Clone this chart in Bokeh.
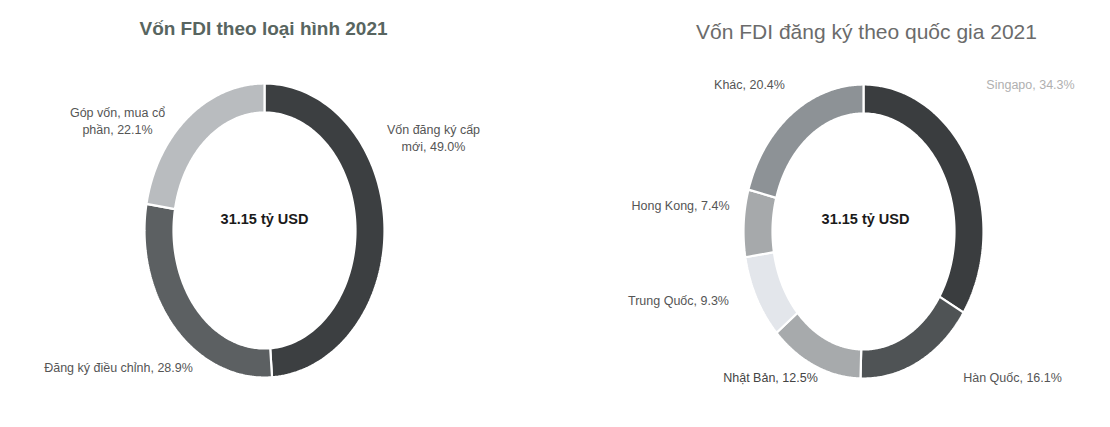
import numpy as np
from bokeh.plotting import figure
from bokeh.models import Range1d, ColumnDataSource
from bokeh.core.properties import value
from bokeh.embed import file_html
from bokeh.resources import INLINE

# ---- data ----
title_left = "Vốn FDI theo loại hình 2021"
cats_left = ["Vốn đăng ký cấp\nmới", "Đăng ký điều chỉnh", "Góp vốn, mua cổ\nphần"]
vals_left = [49.0, 28.9, 22.1]

title_right = "Vốn FDI đăng ký theo quốc gia 2021"
cats_right = ["Singapo", "Hàn Quốc", "Nhật Bản", "Trung Quốc", "Hong Kong", "Khác"]
vals_right = [34.3, 16.1, 12.5, 9.3, 7.4, 20.4]

center_text = "31.15 tỷ USD"

# ---- styles / layout ----
colors_left = ["#3c3f41", "#5c6062", "#b9bcbf"]
colors_right = ["#3a3d3f", "#4f5355", "#a7aaac", "#e3e6eb", "#a6a9ab", "#8d9296"]
label_colors_right = ["#b0b0b0", "#555555", "#444444", "#555555", "#555555", "#555555"]

W, H = 1094, 411
FONT = value("Liberation Sans")

p = figure(width=W, height=H, output_backend="svg", toolbar_location=None,
           x_range=Range1d(0, W), y_range=Range1d(H, 0),
           x_axis_location=None, y_axis_location=None, min_border=0,
           tools="")
p.grid.visible = False
p.outline_line_color = None
p.background_fill_color = "white"


def ring(cx, cy, vals, rxo, ryo, rxi, ryi):
    xs, ys = [], []
    total = float(sum(vals))
    start = 0.0
    for v in vals:
        end = start + v / total * 2 * np.pi
        t = np.linspace(start, end, 120)
        ox = cx + rxo * np.sin(t)
        oy = cy - ryo * np.cos(t)
        ix = cx + rxi * np.sin(t[::-1])
        iy = cy - ryi * np.cos(t[::-1])
        xs.append(list(np.concatenate([ox, ix])))
        ys.append(list(np.concatenate([oy, iy])))
        start = end
    return xs, ys


def donut(cx, cy, vals, colors):
    xs, ys = ring(cx, cy, vals, 120, 147, 91, 118)
    src = ColumnDataSource(dict(xs=xs, ys=ys, color=colors))
    p.patches("xs", "ys", source=src, fill_color="color", line_color="white",
              line_width=2.2)


# left donut
lcx, lcy = 264, 230
donut(lcx, lcy, vals_left, colors_left)
# right donut
rcx, rcy = 863, 231
donut(rcx, rcy, vals_right, colors_right)

# titles
p.text(x=[263], y=[28], text=[title_left], text_font=FONT, text_font_size="19px",
       text_font_style="bold", text_color="#586560", text_align="center",
       text_baseline="middle")
p.text(x=[866], y=[31], text=[title_right], text_font=FONT, text_font_size="21px",
       text_color="#6b6b6b", text_align="center", text_baseline="middle")

# center totals
for cx in (264, 865):
    p.text(x=[cx], y=[218], text=[center_text], text_font=FONT, text_font_size="14.5px",
           text_font_style="bold", text_color="#1a1a1a", text_align="center",
           text_baseline="middle")

# data labels
lab_left = [f"{c}, {v:.1f}%" for c, v in zip(cats_left, vals_left)]
pos_left = [(433, 138), (118, 367), (117, 121)]
p.text(x=[q[0] for q in pos_left], y=[q[1] for q in pos_left], text=lab_left,
       text_font=FONT, text_font_size="12.5px", text_color="#555555",
       text_align="center", text_baseline="middle", text_line_height=1.25)

lab_right = [f"{c}, {v:.1f}%" for c, v in zip(cats_right, vals_right)]
pos_right = [(1030, 84), (1012, 377), (770, 377), (678, 300), (680, 205), (749, 84)]
p.text(x=[q[0] for q in pos_right], y=[q[1] for q in pos_right], text=lab_right,
       text_font=FONT, text_font_size="12.5px", text_color=label_colors_right,
       text_align="center", text_baseline="middle")

open("out.html", "w").write(file_html(p, INLINE))
